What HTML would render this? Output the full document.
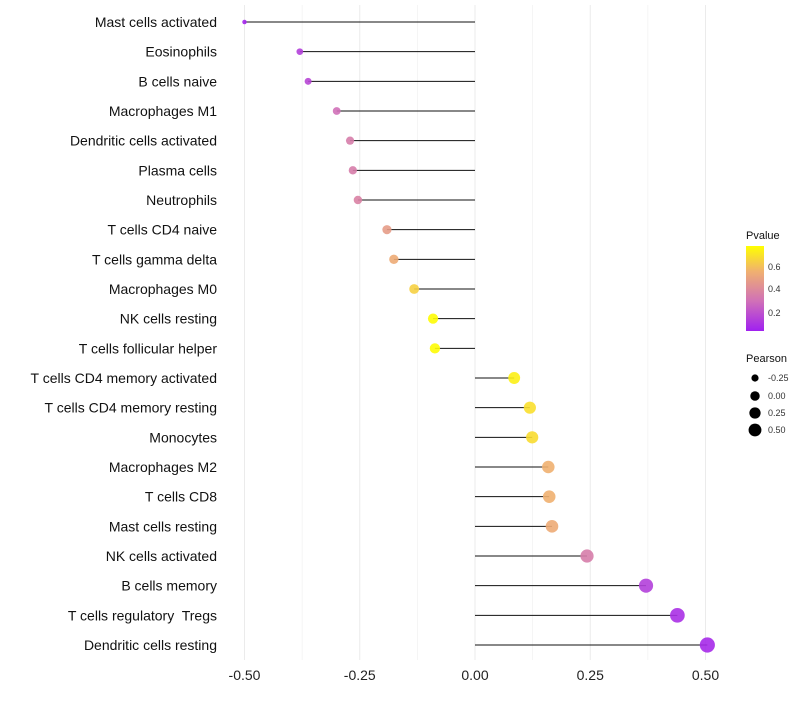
<!DOCTYPE html>
<html><head><meta charset="utf-8"><style>
body{margin:0;background:#fff;font-family:"Liberation Sans",sans-serif}
text{white-space:pre}
</style></head><body>
<svg id="c" width="800" height="700" xmlns="http://www.w3.org/2000/svg">
<defs><linearGradient id="g" x1="0" y1="1" x2="0" y2="0">
<stop offset="0" stop-color="#A020F0"/><stop offset="0.35" stop-color="#D070B8"/><stop offset="0.7" stop-color="#F0B070"/><stop offset="1" stop-color="#FFFF00"/></linearGradient></defs>
</svg>
<script>
const categories=["Mast cells activated","Eosinophils","B cells naive","Macrophages M1","Dendritic cells activated","Plasma cells","Neutrophils","T cells CD4 naive","T cells gamma delta","Macrophages M0","NK cells resting","T cells follicular helper","T cells CD4 memory activated","T cells CD4 memory resting","Monocytes","Macrophages M2","T cells CD8","Mast cells resting","NK cells activated","B cells memory","T cells regulatory  Tregs","Dendritic cells resting"];
const pearson=[-0.50,-0.38,-0.362,-0.30,-0.271,-0.265,-0.254,-0.191,-0.176,-0.132,-0.091,-0.087,0.085,0.119,0.124,0.159,0.161,0.167,0.243,0.371,0.439,0.504];
const pvalue=[0.02,0.1,0.12,0.25,0.3,0.3,0.32,0.42,0.48,0.6,0.74,0.74,0.7,0.65,0.64,0.5,0.5,0.48,0.3,0.1,0.05,0.03];
const xTicks=[-0.5,-0.25,0,0.25,0.5];
const xTickLabels=["-0.50","-0.25","0.00","0.25","0.50"];
const NS="http://www.w3.org/2000/svg",svg=document.getElementById('c');
const x=v=>475+v*461;
const y=i=>22+i*(623/21);
const rad=v=>Math.sqrt(Math.max(1,5+52*(v+0.5)));
function lerp(a,b,t){return a.map((c,k)=>Math.round(c+(b[k]-c)*t));}
const stops=[[0,[160,32,240]],[0.25,[208,112,184]],[0.5,[240,176,112]],[0.75,[255,255,0]]];
function col(p){p=Math.max(0,Math.min(0.75,p));for(let k=0;k<stops.length-1;k++){if(p<=stops[k+1][0]){const t=(p-stops[k][0])/(stops[k+1][0]-stops[k][0]);return 'rgb('+lerp(stops[k][1],stops[k+1][1],t).join(',')+')';}}return 'rgb(255,255,0)';}
function mk(t,a){const e=document.createElementNS(NS,t);for(const k in a)e.setAttribute(k,a[k]);svg.appendChild(e);return e;}
for(let v=-0.5;v<=0.501;v+=0.125){const g=mk('line',{x1:x(v),x2:x(v),y1:5,y2:660,stroke:'#ebebeb','stroke-width':Math.abs((v*4)%1)<0.01?1:0.5});

}
xTicks.forEach((v,i)=>{const t=mk('text',{x:x(v),y:680,'text-anchor':'middle','font-size':14,fill:'#222'});t.textContent=xTickLabels[i];

});
categories.forEach((c,i)=>{
const t=mk('text',{x:217,y:y(i)+5,'text-anchor':'end','font-size':14,fill:'#111'});t.textContent=c;


const l=mk('line',{x1:x(0),x2:x(pearson[i]),y1:y(i),y2:y(i),stroke:'#111','stroke-width':1});


const p=mk('circle',{cx:x(pearson[i]),cy:y(i),r:rad(pearson[i]),fill:col(pvalue[i]),'fill-opacity':0.9});


});
const lt=mk('text',{x:746,y:239,'font-size':11,fill:'#111'});lt.textContent='Pvalue';


const cb=mk('rect',{x:746,y:246,width:18,height:85,fill:'url(#g)'});


[[0.6,266],[0.4,288],[0.2,312]].forEach(([v,yy])=>{const t=mk('text',{x:768,y:yy+4,'font-size':9,fill:'#333'});t.textContent=v.toFixed(1);

});
const st=mk('text',{x:746,y:362,'font-size':11,fill:'#111'});st.textContent='Pearson';


[[-0.25,378],[0,396],[0.25,413],[0.5,430]].forEach(([v,yy])=>{
const c=mk('circle',{cx:755,cy:yy,r:rad(v)*0.85,fill:'#000'});


const t=mk('text',{x:768,y:yy+3,'font-size':9,fill:'#333'});t.textContent=v.toFixed(2);

});
</script>
</body></html>
